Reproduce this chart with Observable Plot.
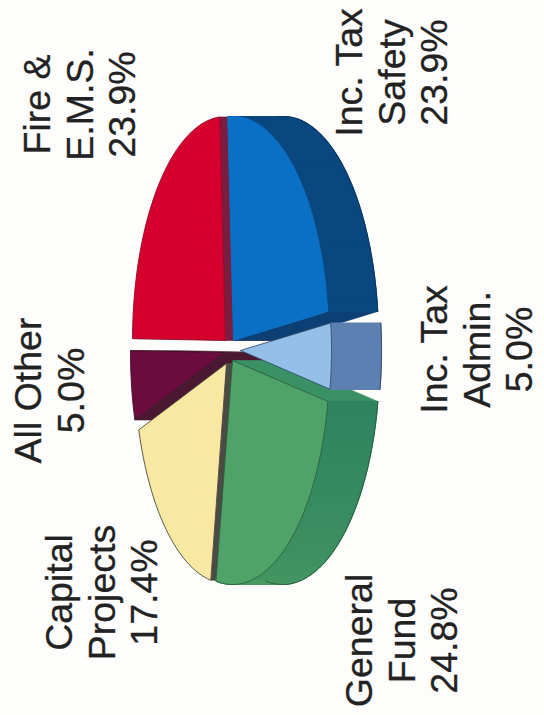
<!DOCTYPE html>
<html>
<head>
<meta charset="utf-8">
<script src="https://cdn.jsdelivr.net/npm/d3@7"></script>
<script src="https://cdn.jsdelivr.net/npm/@observablehq/plot@0.6"></script>
<style>html,body{margin:0;padding:0;background:#fdfdfb}svg{display:block}</style>
</head>
<body>
<div id="chart"></div>
<script>
// Data: clockwise from the top of the (rotated) pie
const categories = ["Inc. Tax Safety", "Inc. Tax Admin.", "General Fund", "Capital Projects", "All Other", "Fire & E.M.S."];
const shares = [23.9, 5.0, 24.8, 17.4, 5.0, 23.9];

// Labels
const labelLines = ["Inc. Tax\nSafety\n23.9%", "Inc. Tax\nAdmin.\n5.0%", "General\nFund\n24.8%", "Capital\nProjects\n17.4%", "All Other\n5.0%", "Fire &\nE.M.S.\n23.9%"];
const labelX = [390.5, 475.5, 400.5, 100.5, 48, 78.5];
const labelY = [72, 349, 640, 592, 390, 104];

// Drawing layout of each slice (centre of its top face, radii), colours
const startAngle = -3.5, depth = 50;
const sliceCx = [233, 240, 232, 226, 224, 225];
const sliceCy = [340, 350, 360, 363, 352, 340];
const sliceRx = [95, 91, 97, 92, 94, 93];
const sliceRy = [224, 212, 224, 220, 224, 224];
const topColor = ["#0a70c6", "#93bfe8", "#4fa368", "#f8e8a2", "#6c0c3e", "#d6002e"];
const wallColor = ["#0c3f73", "#5d80b2", "#3a9163", "#4b4a44", "#4a1830", "#7c1c3e"];
const rimFrom = ["#0b477f", "#5d80b2", "#2e8460", "#4b4a44", "#4a1830", "#7c1c3e"];
const rimTo = ["#0b477f", "#5d80b2", "#4a9b60", "#4b4a44", "#4a1830", "#7c1c3e"];
const edgeColor = ["#0b3560", "#33506f", "#2d5f40", "#4a4a3c", "#3a1024", "#7a0a24"];
const topEdge = ["#0a70c6", "#33506f", "#2d5f40", "#4a4a3c", "#3a1024", "#8a0a28"];
const paintOrder = [5, 4, 3, 0, 2, 1];

const rad = d => d * Math.PI / 180;
let acc = startAngle;
const spans = shares.map(s => { const a = acc; acc += s / 100 * 360; return [a, acc]; });

const point = (i, t, dx = 0) => ({
  x: sliceCx[i] + dx + sliceRx[i] * Math.sin(rad(t)),
  y: sliceCy[i] - sliceRy[i] * Math.cos(rad(t))
});
const arc = (i, a, b, dx = 0) => {
  const n = Math.max(2, Math.ceil(Math.abs(b - a) / 2));
  return d3.range(n + 1).map(k => point(i, a + (b - a) * k / n, dx));
};
const closed = pts => [...pts, pts[0]];
const poly = (pts, fill, stroke, w = 0.8) => Plot.line(closed(pts), {
  x: "x", y: "y", fill, stroke: stroke || fill, strokeWidth: stroke ? w : 1.2, curve: "linear", strokeLinejoin: "round"
});

const marks = [];
for (const i of paintOrder) {
  const [a, b] = spans[i];
  const c = { x: sliceCx[i], y: sliceCy[i] };
  const c2 = { x: c.x + depth, y: c.y };
  // radial walls: only the ones seen from this viewpoint
  const walls = [];
  if (Math.cos(rad(a)) < 0) walls.push(a);
  if (Math.cos(rad(b)) > 0) walls.push(b);
  for (const t of walls) {
    marks.push(poly([c, point(i, t), point(i, t, depth), c2], wallColor[i], wallColor[i], 0.6));
  }
  // outer rim, shaded along the arc (only for slices on the rim side)
  if (Math.sin(rad((a + b) / 2)) > 0.2) {
    const steps = Math.ceil((b - a) / 3);
    const shade = d3.interpolateRgb(rimFrom[i], rimTo[i]);
    for (let k = 0; k < steps; k++) {
      const t0 = a + (b - a) * k / steps, t1 = a + (b - a) * (k + 1) / steps;
      marks.push(poly([point(i, t0), point(i, t1), point(i, t1, depth), point(i, t0, depth)], shade(k / steps)));
    }
    marks.push(Plot.line(arc(i, a, b, depth), { x: "x", y: "y", stroke: edgeColor[i], strokeWidth: 1 }));
  }
  // top face
  marks.push(poly([c, ...arc(i, a, b)], topColor[i], topEdge[i], 0.9));
}

const labels = categories.map((name, i) => ({ name, text: labelLines[i], x: labelX[i], y: labelY[i] }));
marks.push(Plot.text(labels, {
  x: "x", y: "y", text: "text", rotate: -90, fontSize: 37.5, lineHeight: 1.14,
  fontFamily: "Liberation Sans", fill: "#222222", stroke: "#222222", strokeWidth: 0.3,
  textAnchor: "middle", lineAnchor: "middle"
}));

const chart = Plot.plot({
  width: 544, height: 715, margin: 0,
  x: { domain: [0, 544], range: [0, 544], axis: null },
  y: { domain: [0, 715], range: [0, 715], axis: null },
  style: { background: "#fdfdfb" },
  marks
});
document.getElementById("chart").appendChild(chart);
</script>
</body>
</html>
